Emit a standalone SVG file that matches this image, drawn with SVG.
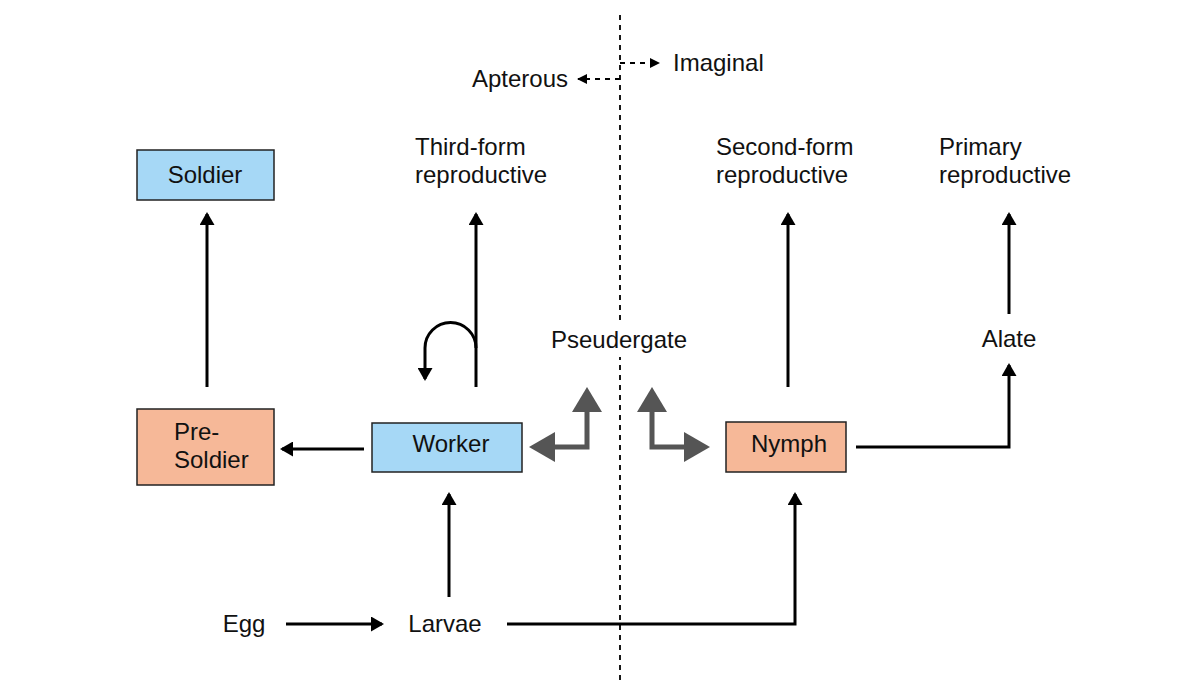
<svg xmlns="http://www.w3.org/2000/svg" width="1200" height="691" viewBox="0 0 1200 691">
<style>
text{font-family:"Liberation Sans",Arial,sans-serif;font-size:24px;fill:#111}
.box{stroke:#222;stroke-width:1.5}
.blue{fill:#A6D8F6}
.sal{fill:#F6B898}
.c{fill:none;stroke:#000;stroke-width:3}
.d{fill:none;stroke:#000;stroke-width:1.8;stroke-dasharray:5 5}
.g{fill:none;stroke:#555;stroke-width:5}
.gh{fill:#555}
</style>
<defs>
<marker id="ah" viewBox="0 0 13 15" refX="11" refY="7.5" markerWidth="13" markerHeight="15" markerUnits="userSpaceOnUse" orient="auto">
<path d="M0,0 L13,7.5 L0,15 z" fill="#000"/>
</marker>
<marker id="dh" viewBox="0 0 10 10" refX="9" refY="5" markerWidth="10" markerHeight="10" markerUnits="userSpaceOnUse" orient="auto">
<path d="M0,0 L10,5 L0,10 z" fill="#000"/>
</marker>
</defs>
<g id="connectors">
<line class="d" x1="620" y1="15" x2="620" y2="680"/>
<path class="d" d="M620,63 H659" marker-end="url(#dh)"/>
<path class="d" d="M620,79 H578" marker-end="url(#dh)"/>
<path class="c" d="M207,387 V214" marker-end="url(#ah)"/>
<path class="c" d="M364,449 H282" marker-end="url(#ah)"/>
<path class="c" d="M476,387 V214" marker-end="url(#ah)"/>
<path class="c" d="M476,348 A25.5,25.5 0 0 0 425,348 V379" marker-end="url(#ah)"/>
<path class="c" d="M788,387 V214" marker-end="url(#ah)"/>
<path class="c" d="M1009,314 V214" marker-end="url(#ah)"/>
<path class="c" d="M856,447 H1009 V365" marker-end="url(#ah)"/>
<path class="c" d="M286,624 H382" marker-end="url(#ah)"/>
<path class="c" d="M449,597 V494" marker-end="url(#ah)"/>
<path class="c" d="M507,624 H795 V494" marker-end="url(#ah)"/>
<path class="g" d="M587,410 V447 H553"/>
<polygon class="gh" points="587,387 572,412 602,412"/>
<polygon class="gh" points="529,447 555,432 555,462"/>
<path class="g" d="M652,410 V447 H686"/>
<polygon class="gh" points="652,387 637,412 667,412"/>
<polygon class="gh" points="710,447 684,432 684,462"/>
</g>
<g id="soldier"><rect class="box blue" x="137" y="150" width="137" height="50"/><text x="205" y="183" text-anchor="middle">Soldier</text></g>
<g id="presoldier"><rect class="box sal" x="137" y="409" width="137" height="76"/><text x="174" y="440">Pre-</text><text x="174" y="468">Soldier</text></g>
<g id="worker"><rect class="box blue" x="372" y="423" width="150" height="49"/><text x="451" y="452" text-anchor="middle">Worker</text></g>
<g id="nymph"><rect class="box sal" x="726" y="422" width="120" height="50"/><text x="789" y="452" text-anchor="middle">Nymph</text></g>
<g id="thirdform"><text x="415" y="155">Third-form</text><text x="415" y="183">reproductive</text></g>
<g id="secondform"><text x="716" y="155">Second-form</text><text x="716" y="183">reproductive</text></g>
<g id="primary"><text x="939" y="155">Primary</text><text x="939" y="183">reproductive</text></g>
<g id="alate"><text x="1009" y="347" text-anchor="middle">Alate</text></g>
<g id="pseudergate"><rect x="606" y="324" width="28" height="33" fill="#fff"/><text x="619" y="348" text-anchor="middle">Pseudergate</text></g>
<g id="apterous"><text x="568" y="87" text-anchor="end">Apterous</text></g>
<g id="imaginal"><text x="673" y="71">Imaginal</text></g>
<g id="egg"><text x="244" y="632" text-anchor="middle">Egg</text></g>
<g id="larvae"><text x="445" y="632" text-anchor="middle">Larvae</text></g>
</svg>
